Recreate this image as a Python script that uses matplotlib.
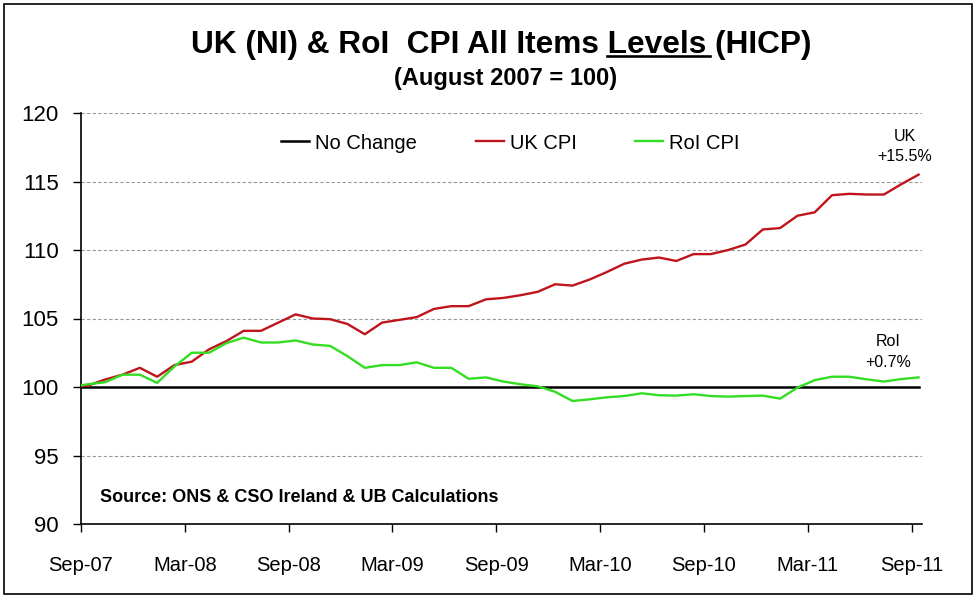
import matplotlib
matplotlib.use("Agg")
import matplotlib.pyplot as plt
from matplotlib.lines import Line2D
from matplotlib.patches import Rectangle

plt.rcParams['font.family'] = ['Liberation Sans', 'DejaVu Sans']

# Months from Aug-07 (base = 100) to Sep-11
months = ["Aug-07",
          "Sep-07", "Oct-07", "Nov-07", "Dec-07", "Jan-08", "Feb-08", "Mar-08", "Apr-08", "May-08",
          "Jun-08", "Jul-08", "Aug-08", "Sep-08", "Oct-08", "Nov-08", "Dec-08", "Jan-09", "Feb-09",
          "Mar-09", "Apr-09", "May-09", "Jun-09", "Jul-09", "Aug-09", "Sep-09", "Oct-09", "Nov-09",
          "Dec-09", "Jan-10", "Feb-10", "Mar-10", "Apr-10", "May-10", "Jun-10", "Jul-10", "Aug-10",
          "Sep-10", "Oct-10", "Nov-10", "Dec-10", "Jan-11", "Feb-11", "Mar-11", "Apr-11", "May-11",
          "Jun-11", "Jul-11", "Aug-11", "Sep-11"]

uk_cpi = [100.0,
          100.1, 100.55, 100.9, 101.4, 100.75, 101.6, 101.85, 102.75, 103.35,
          104.1, 104.1, 104.7, 105.3, 105.0, 104.95, 104.6, 103.85, 104.7,
          104.9, 105.1, 105.7, 105.9, 105.9, 106.4, 106.5, 106.7, 106.95,
          107.5, 107.4, 107.85, 108.4, 109.0, 109.3, 109.45, 109.2, 109.7,
          109.7, 110.0, 110.4, 111.5, 111.6, 112.5, 112.75, 114.0, 114.1,
          114.05, 114.05, 114.8, 115.5]

roi_cpi = [100.0,
           100.2, 100.35, 100.9, 100.9, 100.3, 101.5, 102.5, 102.5, 103.2,
           103.6, 103.25, 103.25, 103.4, 103.1, 103.0, 102.25, 101.4, 101.6,
           101.6, 101.8, 101.4, 101.4, 100.6, 100.7, 100.4, 100.2, 100.05,
           99.65, 98.98, 99.1, 99.25, 99.34, 99.54, 99.4, 99.37, 99.47,
           99.34, 99.3, 99.34, 99.37, 99.15, 99.95, 100.5, 100.75, 100.75,
           100.56, 100.4, 100.58, 100.7]

no_change = [100.0] * len(months)

tick_labels = ["Sep-07", "Mar-08", "Sep-08", "Mar-09", "Sep-09",
               "Mar-10", "Sep-10", "Mar-11", "Sep-11"]
y_ticks = [90, 95, 100, 105, 110, 115, 120]

# x positions: month index relative to Sep-07 (mid-month)
x = [i - 1 + 0.4 for i in range(len(months))]
tick_pos = [months.index(lbl) - 1 for lbl in tick_labels]

fig = plt.figure(figsize=(9.77, 5.99), dpi=100)
ax = fig.add_axes([81 / 977, 1 - 524 / 599, (922 - 81) / 977, (524 - 113) / 599])

ax.plot(x, no_change, color='black', lw=1.8, label='No Change', zorder=3)
ax.plot(x, uk_cpi, color='#C0141C', lw=1.7, label='UK CPI', zorder=4)
ax.plot(x, roi_cpi, color='#33DD22', lw=1.7, label='RoI CPI', zorder=4)

ax.set_xlim(0, 48.6)
ax.set_ylim(90, 120)
ax.set_yticks(y_ticks)
ax.set_yticklabels([str(v) for v in y_ticks], fontsize=16)
ax.set_xticks(tick_pos)
ax.set_xticklabels(tick_labels, fontsize=14.5)
ax.tick_params(axis='both', direction='out', length=6, width=1, color='black')
ax.tick_params(axis='x', pad=17)
ax.tick_params(axis='y', pad=10)

for v in [95, 105, 110, 115, 120]:
    ax.axhline(v, color='#999999', lw=0.8, ls=(0, (3, 2)), zorder=1)

for s in ['top', 'right']:
    ax.spines[s].set_visible(False)
ax.spines['left'].set_linewidth(1.2)
ax.spines['bottom'].set_linewidth(1.2)

ax.legend(loc='center left', bbox_to_anchor=(0.238, 0.927), ncol=3, frameon=False,
          fontsize=14.5, handlelength=1.4, handletextpad=0.3, columnspacing=2.9,
          borderaxespad=0, borderpad=0)

ax.text(47.6, 117.55, "UK\n+15.5%", ha='center', va='center', fontsize=11.5,
        linespacing=1.45)
ax.text(46.65, 102.55, "RoI\n+0.7%", ha='center', va='center', fontsize=11.5,
        linespacing=1.45)

ax.text(0.022, 0.065, "Source: ONS & CSO Ireland & UB Calculations", transform=ax.transAxes,
        fontsize=13, fontweight='bold', ha='left', va='center')

# Title with underlined "Levels"
prefix = "UK (NI) & RoI  CPI All Items "
word = "Levels "
suffix = "(HICP)"
tsize = 22.8
title_y = 1 - 45 / 599
cx = 501 / 977
t = fig.text(cx, title_y, prefix + word + suffix, ha='center', va='center',
             fontsize=tsize, fontweight='bold')
fig.canvas.draw()
r = fig.canvas.get_renderer()
full_bb = t.get_window_extent(r)
tp = fig.text(0, 0, prefix, fontsize=tsize, fontweight='bold', alpha=0)
tw = fig.text(0, 0, prefix + word, fontsize=tsize, fontweight='bold', alpha=0)
wp = tp.get_window_extent(r).width
ww = tw.get_window_extent(r).width
W = fig.bbox.width
H = fig.bbox.height
x0 = (full_bb.x0 + wp) / W
x1 = (full_bb.x0 + ww) / W
uy = (full_bb.y0 + 4.5) / H
fig.add_artist(Line2D([x0, x1 - 0.005], [uy, uy], color='black', lw=1.9,
                      transform=fig.transFigure))

fig.text(506 / 977, 1 - 79 / 599, "(August 2007 = 100)", ha='center', va='center',
         fontsize=17, fontweight='bold')

fig.add_artist(Rectangle((4 / 977, 5 / 599), 968 / 977, 590 / 599, fill=False,
                         edgecolor='black', lw=1.2, transform=fig.transFigure))

fig.savefig("out.png", dpi=100)
